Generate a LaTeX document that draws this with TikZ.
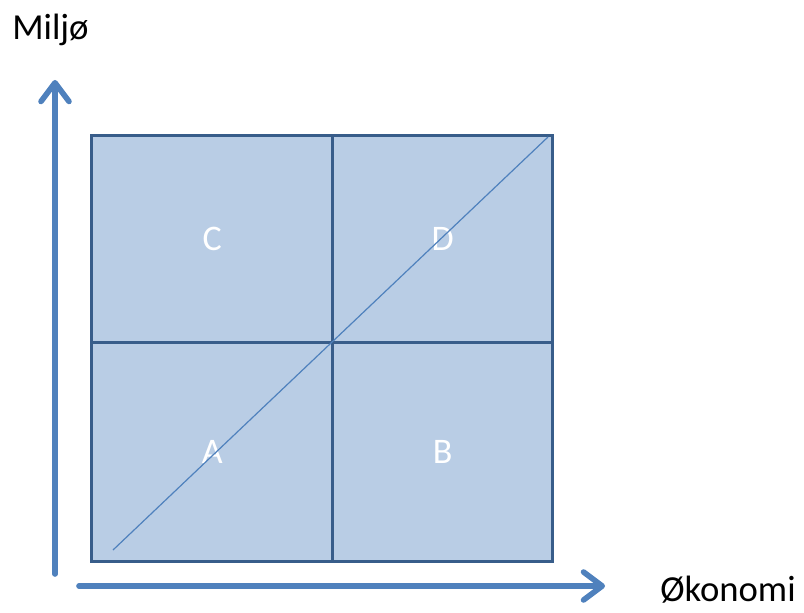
\documentclass[tikz,border=0pt]{standalone}
\usepackage{fontspec}
\setmainfont{Carlito}
\usetikzlibrary{arrows.meta}

\definecolor{cellfill}{HTML}{B9CDE5}
\definecolor{celledge}{HTML}{385D8A}
\definecolor{axisblue}{HTML}{4F81BD}

\begin{document}
\begin{tikzpicture}[x=0.75pt,y=-0.75pt,
    cell/.style={draw=celledge,fill=cellfill,line width=2.6pt,
      text=white,font=\fontsize{27}{30}\selectfont,inner sep=0pt,anchor=north west},
    axisarrow/.style={axisblue,line width=4.2pt,line cap=round,
      -{Straight Barb[length=14pt,width=21pt,line width=4.2pt,round]}},
    axislabel/.style={font=\fontsize{27.5}{30}\selectfont,inner sep=0pt}]

  \useasboundingbox (0,0) rectangle (804,613);

  % --- the four quadrants ---
  \node[cell,minimum width=241*0.75pt,minimum height=207*0.75pt] (C) at (90,134) {C};
  \node[cell,minimum width=220*0.75pt,minimum height=207*0.75pt] (D) at (331,134) {D};
  \node[cell,minimum width=241*0.75pt,minimum height=219*0.75pt] (A) at (90,341) {A};
  \node[cell,minimum width=220*0.75pt,minimum height=219*0.75pt] (B) at (331,341) {B};

  % --- diagonal ---
  \coordinate (diagstart) at (113,550);
  \coordinate (diagend) at (548,137);
  \draw[axisblue,line width=0.9pt] (diagstart) -- (diagend);

  % --- axes ---
  \coordinate (yfoot) at (55,574);
  \coordinate (ytip) at (55,80);
  \coordinate (xfoot) at (79,586);
  \coordinate (xtip) at (605,586);
  \draw[axisarrow] (yfoot) -- (ytip);
  \draw[axisarrow] (xfoot) -- (xtip);

  \node[axislabel,anchor=base west] (miljo) at (12,40) {Miljø};
  \node[axislabel,anchor=base west] (okonomi) at (660,601) {Økonomi};

\end{tikzpicture}
\end{document}
